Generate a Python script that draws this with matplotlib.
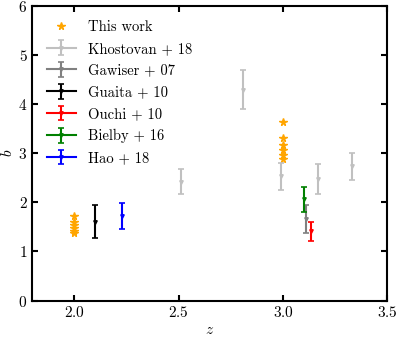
import matplotlib
matplotlib.use('Agg')
import matplotlib.pyplot as plt

plt.rcParams['font.family'] = 'serif'
plt.rcParams['font.serif'] = ['cmr10']
plt.rcParams['mathtext.fontset'] = 'cm'
plt.rcParams['axes.formatter.use_mathtext'] = True
plt.rcParams['font.size'] = 11

# this work (stars)
tw_z = [2.0] * 6 + [3.0] * 6
tw_b = [1.72, 1.60, 1.53, 1.47, 1.42, 1.37,
        3.63, 3.31, 3.17, 3.06, 2.97, 2.89]

# literature values: z, b, error
kh_z = [2.51, 2.81, 2.99, 3.17, 3.33]
kh_b = [2.42, 4.29, 2.53, 2.48, 2.73]
kh_e = [0.25, 0.40, 0.27, 0.31, 0.27]

ga_z, ga_b, ga_e = [3.11], [1.66], [0.28]
gu_z, gu_b, gu_e = [2.10], [1.61], [0.34]
ou_z, ou_b, ou_e = [3.135], [1.41], [0.20]
bi_z, bi_b, bi_e = [3.10], [2.06], [0.25]
ha_z, ha_b, ha_e = [2.23], [1.72], [0.27]

fig = plt.figure(figsize=(3.99, 3.42), dpi=100)
ax = fig.add_axes([0.081, 0.121, 0.89, 0.862])

ax.plot(tw_z, tw_b, '*', color='orange', ms=5.5, ls='none', label='This work')

sets = [
    (kh_z, kh_b, kh_e, 'silver', 'Khostovan + 18'),
    (ga_z, ga_b, ga_e, 'gray', 'Gawiser + 07'),
    (gu_z, gu_b, gu_e, 'black', 'Guaita + 10'),
    (ou_z, ou_b, ou_e, 'red', 'Ouchi + 10'),
    (bi_z, bi_b, bi_e, 'green', 'Bielby + 16'),
    (ha_z, ha_b, ha_e, 'blue', 'Hao + 18'),
]
for z, b, e, c, lab in sets:
    # one call per point so no line joins them
    for i in range(len(z)):
        ax.errorbar([z[i]], [b[i]], yerr=[e[i]], fmt='v', ls='-', color=c, ms=2.5,
                    capsize=2.5, elinewidth=1.5, lw=1.5, capthick=1.2,
                    label=lab if i == 0 else None)

ax.set_xlim(1.8, 3.5)
ax.set_ylim(0, 6)
ax.set_xticks([2.0, 2.5, 3.0, 3.5])
ax.set_yticks([0, 1, 2, 3, 4, 5, 6])
ax.tick_params(direction='in', top=True, right=True, width=1.5, length=4)
for s in ax.spines.values():
    s.set_linewidth(1.5)
ax.set_xlabel(r'$z$', labelpad=2)
ax.set_ylabel(r'$b$', labelpad=2)

ax.legend(loc='upper left', frameon=False, fontsize=10.5, handlelength=2.0,
          borderaxespad=0.6, labelspacing=0.55, handletextpad=0.8)

fig.savefig('out.png', dpi=100)
